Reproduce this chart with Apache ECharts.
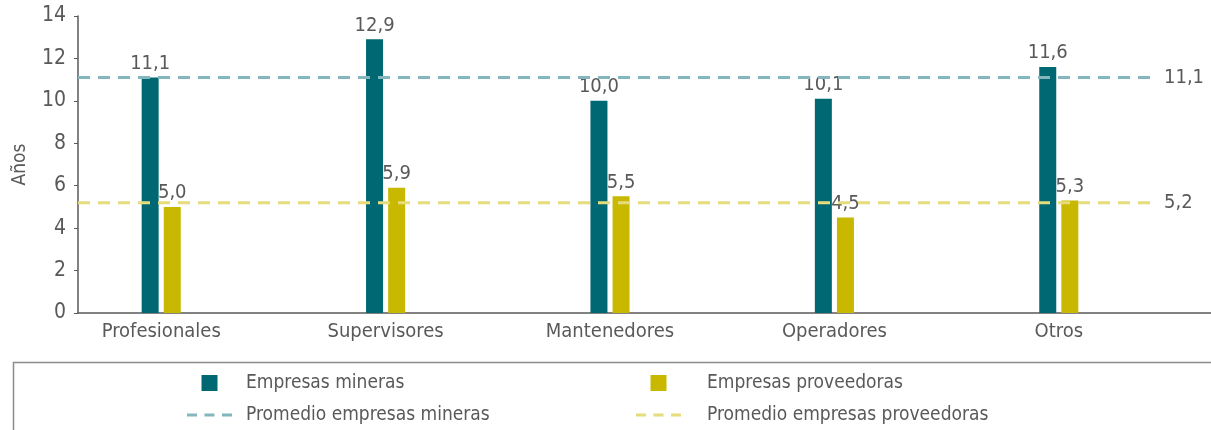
<!DOCTYPE html>
<html>
<head>
<meta charset="utf-8">
<script src="https://cdn.jsdelivr.net/npm/echarts@6/dist/echarts.min.js"></script>
<style>
  html, body { margin: 0; padding: 0; background: #fff; }
  #main { width: 1211px; height: 430px; }
</style>
</head>
<body>
<div id="main"></div>
<script>
// datos
const categorias = ['Profesionales', 'Supervisores', 'Mantenedores', 'Operadores', 'Otros']
const mineras = [11.1, 12.9, 10.0, 10.1, 11.6]
const proveedoras = [5.0, 5.9, 5.5, 4.5, 5.3]
const promedioMineras = 11.1
const promedioProveedoras = 5.2
const yMin = 0
const yMax = 14
const yInterval = 2

const fuente = '"Liberation Sans Narrow", "Arial Narrow", "DejaVu Sans Condensed", sans-serif'
const gris = '#595959'
const coma = v => v.toFixed(1).replace('.', ',')

const cajaGrid = { top: 16, bottom: 117 }
const iconoCuadro = 'path://M0,0h16v16h-16z'
const iconoGuiones = 'path://M0,0h10v3h-10z M17.5,0h10v3h-10z M35,0h10v3h-10z'

var myChart = echarts.init(document.getElementById('main'))
var option = {
  animation: false,
  textStyle: { fontFamily: fuente },
  grid: [
    // ejes visibles
    Object.assign({ left: 78, right: 0 }, cajaGrid),
    // barras
    Object.assign({ left: 49, right: 40 }, cajaGrid),
    // promedios
    Object.assign({ left: 78, right: 53 }, cajaGrid)
  ],
  xAxis: [
    {
      gridIndex: 0, type: 'value', min: 0, max: 1,
      axisLine: { show: true, lineStyle: { color: gris, width: 1.5 } },
      axisTick: { show: false }, axisLabel: { show: false }, splitLine: { show: false }
    },
    {
      gridIndex: 1, type: 'category', data: categorias,
      axisLine: { show: false }, axisTick: { show: false },
      axisLabel: { color: gris, fontSize: 20, fontFamily: fuente, margin: 9 }
    },
    { gridIndex: 2, type: 'value', min: 0, max: 1, show: false }
  ],
  yAxis: [
    {
      gridIndex: 0, type: 'value', min: yMin, max: yMax, interval: yInterval,
      name: 'Años', nameLocation: 'middle', nameGap: 48,
      nameTextStyle: { color: gris, fontSize: 19, fontFamily: fuente },
      axisLine: { show: true, lineStyle: { color: gris, width: 1.5 } },
      axisTick: { show: true, length: 4, lineStyle: { color: gris } },
      axisLabel: { color: gris, fontSize: 21, fontFamily: fuente, margin: 12 },
      splitLine: { show: false }
    },
    { gridIndex: 1, type: 'value', min: yMin, max: yMax, show: false },
    { gridIndex: 2, type: 'value', min: yMin, max: yMax, show: false }
  ],
  legend: [
    {
      left: 187, top: 373, padding: 0, height: 60, orient: 'vertical',
      itemWidth: 45, itemHeight: 16, itemGap: 12,
      data: [
        { name: 'Empresas mineras', icon: iconoCuadro },
        { name: 'Promedio empresas mineras', icon: iconoGuiones }
      ],
      textStyle: { color: gris, fontSize: 19, lineHeight: 20, fontFamily: fuente, padding: [0, 0, 0, 9] }
    },
    {
      left: 636, top: 373, padding: 0, height: 60, orient: 'vertical',
      itemWidth: 45, itemHeight: 16, itemGap: 12,
      data: [
        { name: 'Empresas proveedoras', icon: iconoCuadro },
        { name: 'Promedio empresas proveedoras', icon: iconoGuiones }
      ],
      textStyle: { color: gris, fontSize: 19, lineHeight: 20, fontFamily: fuente, padding: [0, 0, 0, 21] }
    }
  ],
  graphic: [
    {
      type: 'rect', silent: true,
      shape: { x: 13.5, y: 362.5, width: 1300, height: 120 },
      style: { fill: 'none', stroke: '#8c8c8c', lineWidth: 1.5 }
    }
  ],
  series: [
    {
      name: 'Empresas mineras', type: 'bar', xAxisIndex: 1, yAxisIndex: 1,
      data: mineras, barWidth: 17, barGap: '30%',
      itemStyle: { color: '#006872' },
      label: { show: true, position: 'top', distance: 4, color: gris, fontSize: 20, fontFamily: fuente, formatter: p => coma(p.value) }
    },
    {
      name: 'Empresas proveedoras', type: 'bar', xAxisIndex: 1, yAxisIndex: 1,
      data: proveedoras, barWidth: 17, barGap: '30%',
      itemStyle: { color: '#c8b900' },
      label: { show: true, position: 'top', distance: 4, color: gris, fontSize: 20, fontFamily: fuente, formatter: p => coma(p.value) }
    },
    {
      name: 'Promedio empresas mineras', type: 'line', xAxisIndex: 2, yAxisIndex: 2,
      data: [[0, promedioMineras], [1, promedioMineras]],
      symbol: 'none', silent: true, z: 3,
      lineStyle: { color: '#84b6bd', width: 3, type: [12, 8] },
      itemStyle: { color: '#84b6bd' },
      endLabel: { show: true, distance: 6, color: gris, fontSize: 20, fontFamily: fuente, formatter: () => coma(promedioMineras) }
    },
    {
      name: 'Promedio empresas proveedoras', type: 'line', xAxisIndex: 2, yAxisIndex: 2,
      data: [[0, promedioProveedoras], [1, promedioProveedoras]],
      symbol: 'none', silent: true, z: 3,
      lineStyle: { color: '#e6dc7c', width: 3, type: [12, 8] },
      itemStyle: { color: '#e6dc7c' },
      endLabel: { show: true, distance: 6, color: gris, fontSize: 20, fontFamily: fuente, formatter: () => coma(promedioProveedoras) }
    }
  ]
}
myChart.setOption(option)
</script>
</body>
</html>
